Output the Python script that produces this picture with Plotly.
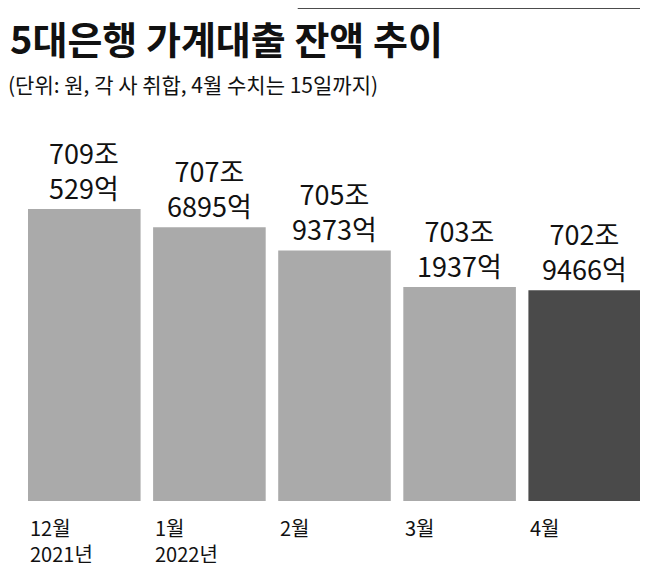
import plotly.graph_objects as go

months = ["12월<br>2021년", "1월<br>2022년", "2월", "3월", "4월"]
values = [709.0529, 707.6895, 705.9373, 703.1937, 702.9466]  # 조원
labels = ["709조<br>529억", "707조<br>6895억", "705조<br>9373억", "703조<br>1937억", "702조<br>9466억"]
colors = ["#aaaaaa"] * 4 + ["#4a4a4a"]

font = "Noto Sans CJK KR"
base = 687.1

fig = go.Figure(go.Bar(x=list(range(5)), y=[v - base for v in values], base=base,
                       marker=dict(color=colors, line=dict(width=0)), hoverinfo="skip"))

for i, (v, t) in enumerate(zip(values, labels)):
    fig.add_annotation(x=i, y=v, text=t, showarrow=False, yanchor="bottom", yshift=0,
                       font=dict(family=font, size=27, color="#111"), align="center")
    fig.add_annotation(x=i - 0.45, y=0, yref="paper", text=months[i], showarrow=False,
                       xanchor="left", yanchor="top", yshift=-10, align="left",
                       font=dict(family=font, size=20, color="#111"))

fig.add_annotation(x=0, y=1, xref="paper", yref="paper", text="<b>5대은행 가계대출 잔액 추이</b>",
                   xanchor="left", yanchor="top", showarrow=False, xshift=-20, yshift=100,
                   font=dict(family=font, size=38, color="#111"))
fig.add_annotation(x=0, y=1, xref="paper", yref="paper",
                   text="(단위: 원, 각 사 취합, 4월 수치는 15일까지)",
                   xanchor="left", yanchor="top", showarrow=False, xshift=-22, yshift=41,
                   font=dict(family=font, size=21, color="#111"))
fig.add_shape(type="line", xref="paper", yref="paper", x0=0.44, x1=1.05, y0=1.255, y1=1.255,
              line=dict(color="#111", width=2))

fig.update_layout(
    width=648, height=566, margin=dict(l=20, r=15, t=100, b=73),
    paper_bgcolor="white", plot_bgcolor="white", bargap=0.1, showlegend=False,
    xaxis=dict(visible=False, range=[-0.45, 4.45]),
    yaxis=dict(visible=False, range=[base, base + 29.55]),
)
fig.write_html("out.html")
